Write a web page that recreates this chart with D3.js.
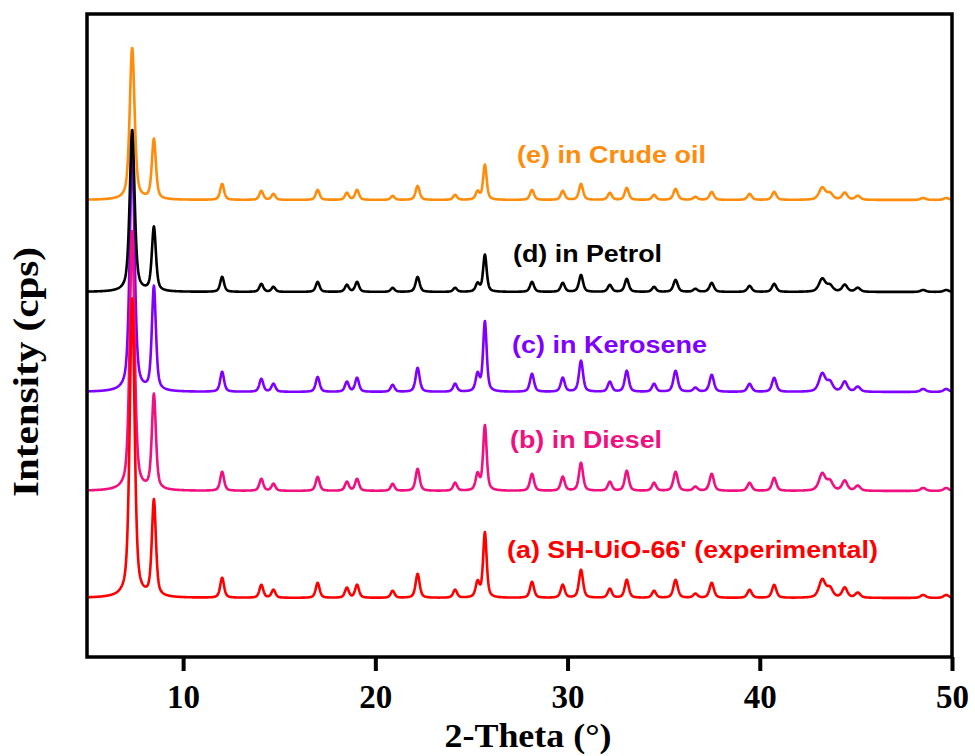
<!DOCTYPE html>
<html>
<head>
<meta charset="utf-8">
<script src="https://cdn.jsdelivr.net/npm/d3@7"></script>
<style>
  html, body { margin: 0; padding: 0; background: #ffffff; }
  svg { display: block; }
</style>
</head>
<body>
<svg id="chart" width="975" height="756"></svg>
<script>
// Reflection positions (2θ, degrees) and their widths (FWHM, degrees)
const peakPositions = [7.35, 8.48, 12.03, 14.07, 14.7, 17.0, 18.52, 19.05, 20.9, 22.2,
  24.15, 25.32, 25.7, 28.15, 29.75, 30.7, 32.2, 33.08, 34.5, 35.62,
  36.65, 37.5, 39.47, 40.75, 43.25, 43.65, 44.42, 45.1, 48.5, 49.7];
const peakWidths = [0.3, 0.25, 0.24, 0.24, 0.24, 0.24, 0.24, 0.24, 0.24, 0.25,
  0.24, 0.24, 0.22, 0.25, 0.25, 0.25, 0.25, 0.25, 0.25, 0.27,
  0.27, 0.27, 0.27, 0.27, 0.4, 0.36, 0.32, 0.32, 0.32, 0.32];

// Peak intensities (cps, arbitrary) for each pattern
const heightsA = [300, 96, 20, 13, 8, 15, 10, 13, 7, 24, 8, 15, 65, 16, 13, 28, 9, 18, 7, 18, 4, 15, 8, 13, 18, 9, 10, 5, 3, 3];
const heightsB = [260, 95, 19, 12, 7, 14, 9, 12, 7, 22, 8, 16, 65, 17, 14, 28, 9, 20, 8, 19, 4, 17, 8, 13, 17, 9, 10, 5, 3, 3];
const heightsC = [240, 104, 20, 13, 8, 15, 10, 14, 7, 24, 8, 17, 70, 18, 14, 31, 10, 21, 8, 21, 4, 17, 8, 14, 18, 9, 10, 5, 3, 3];
const heightsD = [162, 64, 15, 8, 5, 10, 7, 10, 4, 15, 4, 8, 37, 10, 9, 17, 7, 13, 5, 12, 3, 9, 6, 8, 13, 6, 7, 4, 2, 2];
const heightsE = [152, 60, 16, 9, 6, 10, 7, 10, 4, 14, 5, 8, 35, 10, 9, 16, 7, 12, 5, 11, 3, 8, 6, 8, 12, 6, 7, 4, 2, 2];

// Vertical stacking offsets (cps) for each pattern
const offsetA = 59, offsetB = 166, offsetC = 265, offsetD = 365, offsetE = 457;

const seriesLabels = ["(a) SH-UiO-66' (experimental)", "(b) in Diesel", "(c) in Kerosene", "(d) in Petrol", "(e) in Crude oil"];
const seriesColors = ["#ff0000", "#f0107f", "#8000ff", "#000000", "#ff8c0a"];
const xTicks = [10, 20, 30, 40, 50];

const thetaMin = 5, thetaMax = 50, thetaStep = 0.02;

const svg = d3.select("#chart");
const plotLeft = 87, plotRight = 952, plotTop = 14, plotBottom = 657;

const x = d3.scaleLinear().domain([thetaMin, thetaMax]).range([plotLeft, plotRight]);
const y = d3.scaleLinear().domain([0, 643]).range([plotBottom, plotTop]);

// Pseudo-Voigt profile summed over the reflections of one pattern
function pattern(heights, offset) {
  const n = Math.round((thetaMax - thetaMin) / thetaStep);
  const eta = 0.55;
  const pts = [];
  for (let i = 0; i <= n; i++) {
    const t = thetaMin + i * thetaStep;
    let v = offset;
    for (let k = 0; k < peakPositions.length; k++) {
      const u = (t - peakPositions[k]) / (peakWidths[k] / 2);
      const u2 = u * u;
      v += heights[k] * (eta / (1 + u2) + (1 - eta) * Math.exp(-Math.LN2 * u2));
    }
    pts.push([t, v]);
  }
  return pts;
}

const series = [
  { key: "e", heights: heightsE, offset: offsetE, color: seriesColors[4], label: seriesLabels[4] },
  { key: "c", heights: heightsC, offset: offsetC, color: seriesColors[2], label: seriesLabels[2] },
  { key: "b", heights: heightsB, offset: offsetB, color: seriesColors[1], label: seriesLabels[1] },
  { key: "a", heights: heightsA, offset: offsetA, color: seriesColors[0], label: seriesLabels[0] },
  { key: "d", heights: heightsD, offset: offsetD, color: seriesColors[3], label: seriesLabels[3] }
];

svg.append("defs").append("clipPath").attr("id", "plot-clip")
  .append("rect").attr("x", plotLeft).attr("y", plotTop)
  .attr("width", plotRight - plotLeft).attr("height", plotBottom - plotTop);

const line = d3.line().x(d => x(d[0])).y(d => y(d[1]));

const plot = svg.append("g").attr("clip-path", "url(#plot-clip)");
series.forEach(s => {
  plot.append("path")
    .datum(pattern(s.heights, s.offset))
    .attr("fill", "none")
    .attr("stroke", s.color)
    .attr("stroke-width", 2.6)
    .attr("stroke-linejoin", "round")
    .attr("d", line);
});

// Pattern labels
const labelPlacement = {
  e: { x: 517, y: 163, w: 189 },
  d: { x: 513, y: 262, w: 149 },
  c: { x: 512, y: 353, w: 195 },
  b: { x: 510, y: 448, w: 152 },
  a: { x: 507, y: 558, w: 371 }
};
series.forEach(s => {
  const p = labelPlacement[s.key];
  svg.append("text")
    .attr("x", p.x).attr("y", p.y)
    .attr("textLength", p.w).attr("lengthAdjust", "spacingAndGlyphs")
    .attr("fill", s.color)
    .style("font-family", "'Liberation Sans', Arial, sans-serif")
    .style("font-weight", "bold")
    .style("font-size", "23px")
    .text(s.label);
});

// Frame
svg.append("rect")
  .attr("x", plotLeft).attr("y", plotTop)
  .attr("width", plotRight - plotLeft).attr("height", plotBottom - plotTop)
  .attr("fill", "none").attr("stroke", "#000").attr("stroke-width", 3.5);

// Bottom axis
const xAxis = svg.append("g")
  .attr("transform", `translate(0,${plotBottom})`)
  .call(d3.axisBottom(x).tickValues(xTicks).tickSize(14).tickSizeOuter(0).tickPadding(14).tickFormat(d3.format("d")));
xAxis.select(".domain").remove();
xAxis.selectAll(".tick line").attr("stroke", "#000").attr("stroke-width", 4);
xAxis.selectAll(".tick text")
  .attr("fill", "#000")
  .style("font-family", "'Liberation Serif', 'Times New Roman', serif")
  .style("font-weight", "bold")
  .style("font-size", "33px");

// Axis titles
svg.append("text")
  .attr("x", 528).attr("y", 747)
  .attr("text-anchor", "middle")
  .attr("textLength", 167).attr("lengthAdjust", "spacingAndGlyphs")
  .style("font-family", "'Liberation Serif', 'Times New Roman', serif")
  .style("font-weight", "bold")
  .style("font-size", "34px")
  .text("2-Theta (°)");

svg.append("text")
  .attr("transform", "translate(38,372) rotate(-90)")
  .attr("text-anchor", "middle")
  .attr("textLength", 250).attr("lengthAdjust", "spacingAndGlyphs")
  .style("font-family", "'Liberation Serif', 'Times New Roman', serif")
  .style("font-weight", "bold")
  .style("font-size", "35px")
  .text("Intensity (cps)");
</script>
</body>
</html>
